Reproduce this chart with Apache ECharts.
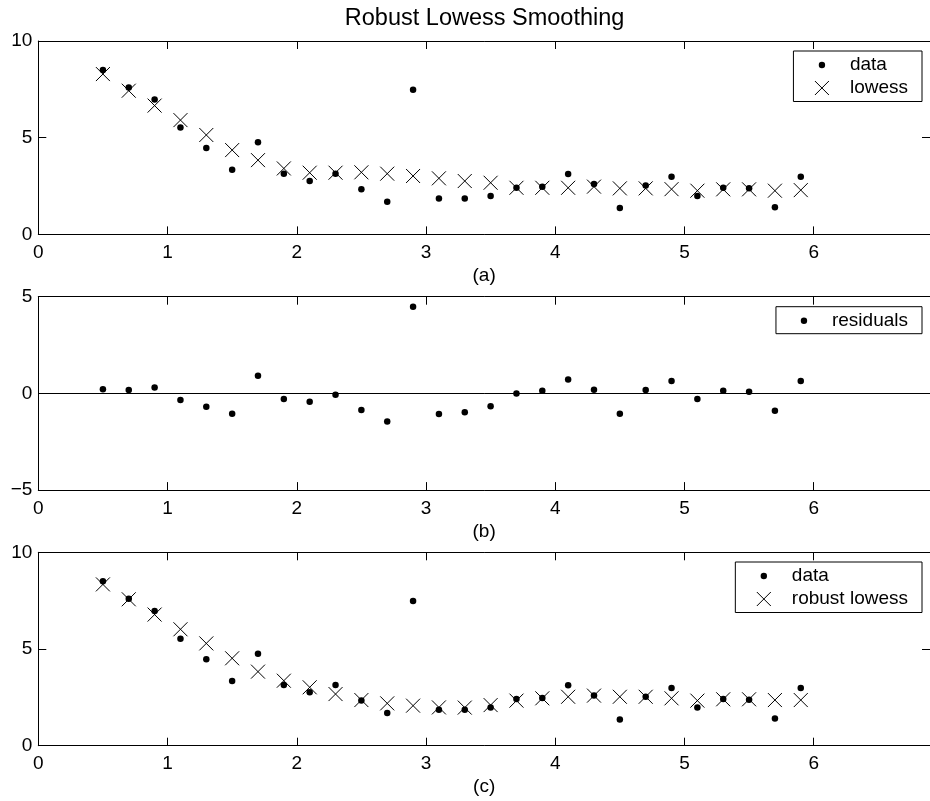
<!DOCTYPE html>
<html>
<head>
<meta charset="utf-8">
<script src="https://cdn.jsdelivr.net/npm/echarts@6/dist/echarts.min.js"></script>
<style>
html,body{margin:0;padding:0;background:#fff;}
#chart{width:930px;height:801px;}
</style>
</head>
<body>
<div id="chart"></div>
<script>
// ---- data ----
const xValues = [0.5,0.7,0.9,1.1,1.3,1.5,1.7,1.9,2.1,2.3,2.5,2.7,2.9,3.1,3.3,3.5,3.7,3.9,4.1,4.3,4.5,4.7,4.9,5.1,5.3,5.5,5.7,5.9];
const dataY = [8.50,7.60,6.97,5.53,4.47,3.34,4.76,3.14,2.76,3.14,2.34,1.69,7.48,1.86,1.86,1.98,2.41,2.47,3.12,2.60,1.36,2.53,2.98,1.98,2.41,2.38,1.40,2.98];
const lowessY = [8.29,7.43,6.66,5.91,5.14,4.36,3.84,3.41,3.19,3.19,3.21,3.14,3.02,2.90,2.76,2.67,2.41,2.41,2.41,2.47,2.38,2.38,2.34,2.26,2.33,2.33,2.26,2.29];
const residualsY = [0.22,0.17,0.31,-0.34,-0.69,-1.05,0.91,-0.29,-0.43,-0.07,-0.86,-1.45,4.48,-1.07,-0.97,-0.67,0.00,0.14,0.72,0.19,-1.05,0.17,0.64,-0.29,0.14,0.09,-0.90,0.64];
const robustY = [8.34,7.57,6.78,6.02,5.29,4.52,3.83,3.36,3.02,2.67,2.36,2.19,2.07,1.98,1.97,2.10,2.33,2.45,2.53,2.59,2.53,2.53,2.45,2.33,2.40,2.40,2.36,2.36];
const titleText = 'Robust Lowess Smoothing';
const panelLabels = ['(a)','(b)','(c)'];
const xRange = [0, 6.9];
const yRanges = [[0,10],[-5,5],[0,10]];
const yInterval = 5;
const xInterval = 1;

// ---- styling ----
const FONT = "'Liberation Sans', Arial, Helvetica, sans-serif";
const gridTops = [41, 296.7, 552.3];
const gridH = 193.4;
const gridLeft = 38.3;
const gridW = 892.6;
const DOT_SIZE = 6.5;
const CROSS_SIZE = 14;
const CROSS_SYMBOL = 'path://M0,0L10,10M10,0L0,10';
const DOT_ICON = 'path://M0,0M46,20M26.2,10A3.2,3.2,0,1,1,19.8,10A3.2,3.2,0,1,1,26.2,10Z';
const CROSS_ICON = 'path://M0,0M46,20M16,3L30,17M30,3L16,17';

function pairs(xs, ys) { return xs.map((x, i) => [x, ys[i]]); }
function fmtNum(v) { return v < 0 ? '\u2212' + Math.abs(v) : String(v); }

const grids = [], xAxes = [], yAxes = [];
gridTops.forEach((t, i) => {
  grids.push({ left: gridLeft, top: t, width: gridW, height: gridH, show: false, containLabel: false });
  const common = { type: 'value', gridIndex: i, min: xRange[0], max: xRange[1], interval: xInterval,
    splitLine: { show: false },
    axisLine: { show: true, onZero: false, lineStyle: { color: '#000', width: 1 } },
    axisTick: { show: true, inside: true, length: 8, lineStyle: { color: '#000', width: 1 } } };
  xAxes.push(Object.assign({}, common, {
    position: 'bottom',
    name: panelLabels[i], nameLocation: 'middle', nameGap: 32,
    nameTextStyle: { fontFamily: FONT, fontSize: 19, color: '#000' },
    axisLabel: { show: true, margin: 9, fontFamily: FONT, fontSize: 19, color: '#000',
      showMaxLabel: false,
      formatter: v => (Math.abs(v - Math.round(v)) < 1e-9 ? fmtNum(v) : '') }
  }));
  xAxes.push(Object.assign({}, common, { position: 'top', axisLabel: { show: false } }));
  const r = yRanges[i];
  const ycommon = { type: 'value', gridIndex: i, min: r[0], max: r[1], interval: yInterval,
    splitLine: { show: false },
    axisLine: { show: true, onZero: false, lineStyle: { color: '#000', width: 1 } },
    axisTick: { show: true, inside: true, length: 8, lineStyle: { color: '#000', width: 1 } } };
  yAxes.push(Object.assign({}, ycommon, { position: 'left',
    axisLabel: { show: true, margin: 6, fontFamily: FONT, fontSize: 19, color: '#000', formatter: fmtNum } }));
  yAxes.push(Object.assign({}, ycommon, { position: 'right', axisLabel: { show: false } }));
});

function dotSeries(name, ys, gi) {
  return { type: 'scatter', name: name, xAxisIndex: 2*gi, yAxisIndex: 2*gi,
    data: pairs(xValues, ys), symbol: 'circle', symbolSize: DOT_SIZE,
    itemStyle: { color: '#000', opacity: 1 }, emphasis: { disabled: true }, z: 3 };
}
function crossSeries(name, ys, gi) {
  return { type: 'scatter', name: name, xAxisIndex: 2*gi, yAxisIndex: 2*gi,
    data: pairs(xValues, ys), symbol: CROSS_SYMBOL, symbolSize: CROSS_SIZE,
    itemStyle: { color: 'rgba(0,0,0,0)', borderColor: '#000', borderWidth: 1, opacity: 1 },
    emphasis: { disabled: true }, z: 4 };
}

const series = [
  dotSeries('data', dataY, 0),
  crossSeries('lowess', lowessY, 0),
  Object.assign(dotSeries('residuals', residualsY, 1), {
    markLine: { silent: true, symbol: ['none','none'], label: { show: false },
      lineStyle: { color: '#000', width: 1, type: 'solid', opacity: 1 }, data: [{ yAxis: 0 }], animation: false }
  }),
  dotSeries('data', dataY, 2),
  crossSeries('robust lowess', robustY, 2)
];

const dotItem = name => ({ name: name, icon: DOT_ICON, itemStyle: { color: '#000', borderWidth: 0, opacity: 1 } });
const crossItem = name => ({ name: name, icon: CROSS_ICON, itemStyle: { color: 'rgba(0,0,0,0)', borderColor: '#000', borderWidth: 1, opacity: 1 } });
const legendBase = {
  orient: 'vertical', right: 8, itemWidth: 46, itemHeight: 20, itemGap: 2.5,
  padding: [4, 14, 3, 5], borderColor: '#000', borderWidth: 1, backgroundColor: '#fff',
  selectedMode: false, align: 'left',
  textStyle: { fontFamily: FONT, fontSize: 19, color: '#000' }
};
const legends = [
  Object.assign({}, legendBase, { top: 51, data: [dotItem('data'), crossItem('lowess')] }),
  Object.assign({}, legendBase, { top: 306.7, data: [dotItem('residuals')] }),
  Object.assign({}, legendBase, { top: 562, data: [dotItem('data'), crossItem('robust lowess')] })
];

const chart = echarts.init(document.getElementById('chart'), null, { renderer: 'canvas' });
chart.setOption({
  animation: false,
  backgroundColor: '#fff',
  title: { text: titleText, left: gridLeft + gridW / 2, textAlign: 'center', top: 7, padding: 0,
    textStyle: { fontFamily: FONT, fontSize: 23.5, fontWeight: 'normal', color: '#000' } },
  legend: legends,
  grid: grids,
  xAxis: xAxes,
  yAxis: yAxes,
  series: series
});
</script>
</body>
</html>
